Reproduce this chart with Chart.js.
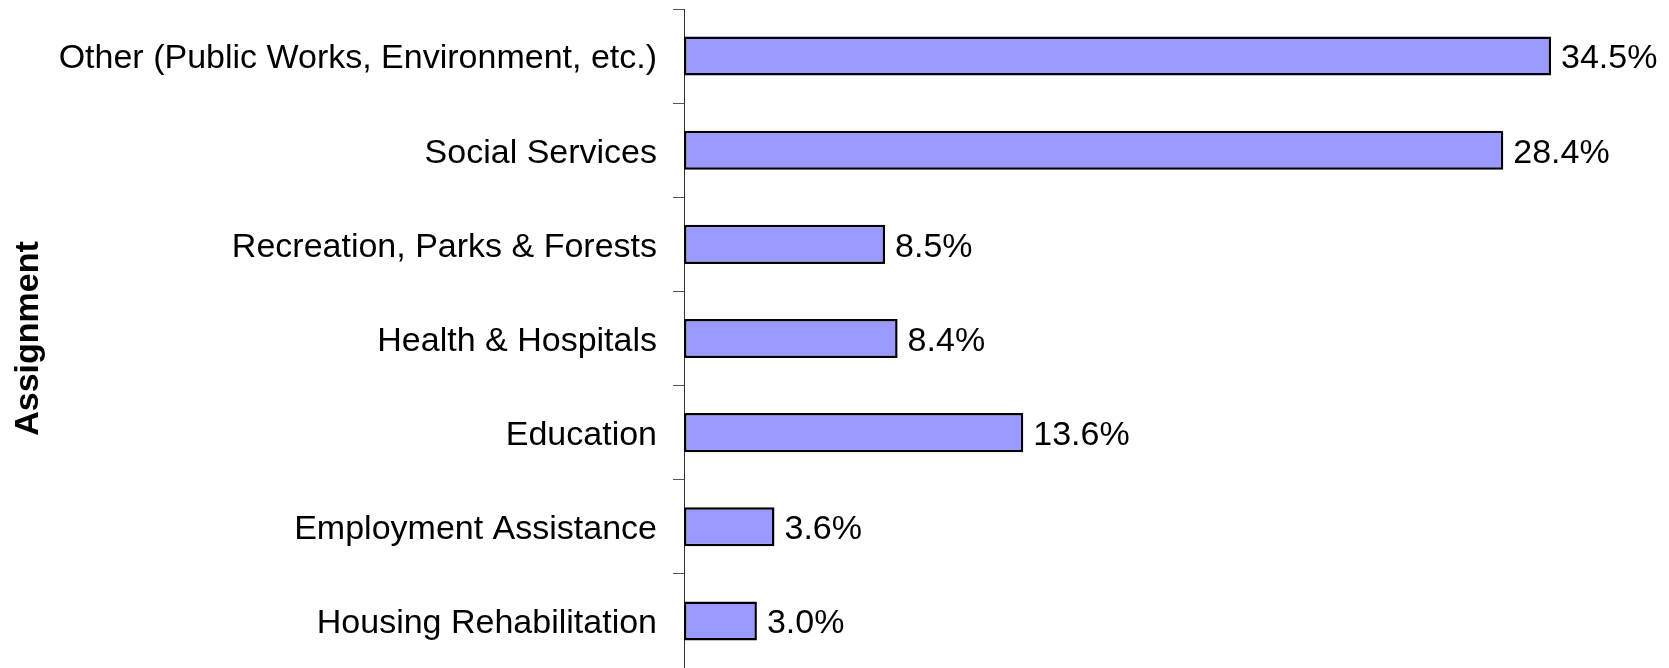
<!DOCTYPE html>
<html>
<head>
<meta charset="utf-8">
<script src="https://cdn.jsdelivr.net/npm/chart.js@4/dist/chart.umd.min.js"></script>
<style>
  body { margin: 0; background: #fff; }
  #grafico { display: block; }
</style>
</head>
<body>
<canvas id="grafico" width="1669" height="668"></canvas>
<script>
// categorias, de arriba hacia abajo
const categorias = [
  'Other (Public Works, Environment, etc.)',
  'Social Services',
  'Recreation, Parks & Forests',
  'Health & Hospitals',
  'Education',
  'Employment Assistance',
  'Housing Rehabilitation'
];
// largo de las barras
const valores = [34.5, 32.6, 8.0, 8.5, 13.5, 3.6, 2.9];
// texto que aparece al final de cada barra
const etiquetas = ['34.5%', '28.4%', '8.5%', '8.4%', '13.6%', '3.6%', '3.0%'];

const FUENTE = '"Liberation Sans", Arial, sans-serif';

// dibuja el porcentaje a la derecha de cada barra
const pluginEtiquetas = {
  id: 'etiquetas',
  afterDatasetsDraw(chart) {
    const ctx = chart.ctx;
    const meta = chart.getDatasetMeta(0);
    ctx.save();
    ctx.font = '34px ' + FUENTE;
    ctx.fillStyle = '#000';
    ctx.textAlign = 'left';
    ctx.textBaseline = 'middle';
    meta.data.forEach((barra, i) => {
      ctx.fillText(etiquetas[i], barra.x + 10, barra.y + 3);
    });
    ctx.restore();
  }
};

var grafico = new Chart(document.getElementById('grafico'), {
  type: 'bar',
  data: {
    labels: categorias,
    datasets: [{
      data: valores,
      backgroundColor: '#9999FF',
      borderColor: '#000',
      borderWidth: 2.5,
      borderSkipped: false,
      barPercentage: 0.415,
      categoryPercentage: 1
    }]
  },
  options: {
    indexAxis: 'y',
    responsive: false,
    animation: false,
    devicePixelRatio: 1,
    layout: { padding: { top: 9, right: 30, bottom: 0, left: 0 } },
    plugins: {
      legend: { display: false },
      tooltip: { enabled: false }
    },
    scales: {
      x: {
        display: false,
        min: 0,
        max: 38
      },
      y: {
        // ancho fijo y sin el margen extra que agrega chart.js por las etiquetas
        afterFit(scale) {
          scale.width = 684;
          scale.paddingTop = 0;
          scale.paddingBottom = 0;
        },
        border: { display: true, color: '#333', width: 1 },
        grid: {
          offset: true,
          drawOnChartArea: false,
          drawTicks: true,
          tickLength: 11,
          color: '#555'
        },
        ticks: {
          padding: 16,
          labelOffset: 3,
          color: '#000',
          font: { family: FUENTE, size: 34 }
        },
        title: {
          display: true,
          text: 'Assignment',
          color: '#000',
          padding: { top: 8, bottom: 4 },
          font: { family: FUENTE, size: 34, weight: 'bold' }
        }
      }
    }
  },
  plugins: [pluginEtiquetas]
});
</script>
</body>
</html>
